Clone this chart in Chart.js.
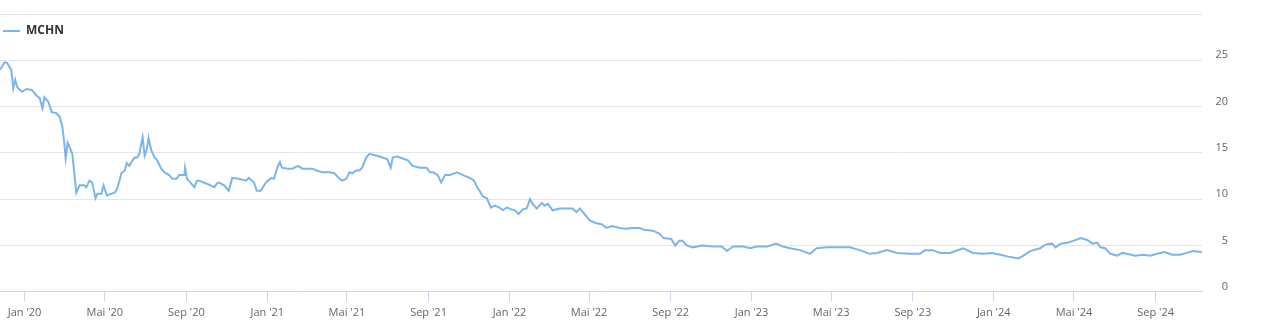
<!DOCTYPE html>
<html>
<head>
<meta charset="utf-8">
<script src="https://cdn.jsdelivr.net/npm/chart.js@4"></script>
<style>
  body { margin: 0; background: #fff; }
</style>
</head>
<body>
<canvas id="myChart" width="1266" height="324"></canvas>
<script>
// Daten
var seriesName = 'MCHN';
var dates = [
  '2019-11-25','2019-11-28','2019-12-02','2019-12-06','2019-12-09','2019-12-12','2019-12-15','2019-12-18','2019-12-21','2019-12-28',
  '2020-01-04','2020-01-12','2020-01-19','2020-01-24','2020-01-28','2020-01-31','2020-02-06','2020-02-11','2020-02-18','2020-02-23',
  '2020-02-27','2020-03-01','2020-03-03','2020-03-06','2020-03-09','2020-03-13','2020-03-16','2020-03-19','2020-03-24','2020-03-31',
  '2020-04-03','2020-04-08','2020-04-12','2020-04-17','2020-04-20','2020-04-26','2020-04-29','2020-05-04','2020-05-11','2020-05-16',
  '2020-05-20','2020-05-26','2020-05-31','2020-06-03','2020-06-07','2020-06-12','2020-06-15','2020-06-19','2020-06-22','2020-06-27',
  '2020-06-30','2020-07-03','2020-07-06','2020-07-10','2020-07-15','2020-07-19','2020-07-25','2020-07-30','2020-08-06','2020-08-11',
  '2020-08-17','2020-08-21','2020-08-29','2020-08-30','2020-09-02','2020-09-08','2020-09-13','2020-09-17','2020-09-20','2020-10-01',
  '2020-10-13','2020-10-17','2020-10-20','2020-10-28','2020-11-04','2020-11-09','2020-11-19','2020-11-30','2020-12-04','2020-12-12',
  '2020-12-16','2020-12-22','2020-12-30','2021-01-07','2021-01-11','2021-01-16','2021-01-20','2021-01-23','2021-02-01','2021-02-08',
  '2021-02-16','2021-02-23','2021-03-03','2021-03-10','2021-03-16','2021-03-25','2021-04-05','2021-04-12','2021-04-20','2021-04-24',
  '2021-04-30','2021-05-05','2021-05-09','2021-05-15','2021-05-20','2021-05-24','2021-05-30','2021-06-04','2021-06-15','2021-06-24',
  '2021-07-01','2021-07-06','2021-07-09','2021-07-16','2021-07-24','2021-08-01','2021-08-08','2021-08-19','2021-08-29','2021-09-03',
  '2021-09-08','2021-09-15','2021-09-20','2021-09-26','2021-10-03','2021-10-14','2021-10-23','2021-11-02','2021-11-07','2021-11-10',
  '2021-11-14','2021-11-17','2021-11-22','2021-11-28','2021-12-04','2021-12-10','2021-12-17','2021-12-22','2021-12-28','2022-01-04',
  '2022-01-09','2022-01-15','2022-01-21','2022-01-27','2022-02-01','2022-02-05','2022-02-11','2022-02-19','2022-02-23','2022-02-28',
  '2022-03-07','2022-03-18','2022-03-28','2022-04-06','2022-04-12','2022-04-17','2022-04-24','2022-05-02','2022-05-12','2022-05-20',
  '2022-05-27','2022-06-05','2022-06-16','2022-06-26','2022-07-05','2022-07-16','2022-07-23','2022-08-05','2022-08-15','2022-08-21',
  '2022-09-02','2022-09-08','2022-09-14','2022-09-19','2022-09-25','2022-10-04','2022-10-19','2022-11-04','2022-11-17','2022-11-25',
  '2022-12-04','2022-12-19','2022-12-30','2023-01-09','2023-01-25','2023-02-07','2023-02-17','2023-02-28','2023-03-15','2023-03-30',
  '2023-04-09','2023-04-25','2023-05-10','2023-05-29','2023-06-13','2023-06-28','2023-07-09','2023-07-24','2023-08-08','2023-08-28',
  '2023-09-12','2023-09-19','2023-10-01','2023-10-12','2023-10-27','2023-11-16','2023-12-01','2023-12-16','2023-12-30','2024-01-11',
  '2024-01-23','2024-02-07','2024-02-15','2024-02-25','2024-03-11','2024-03-19','2024-03-29','2024-04-03','2024-04-11','2024-04-21',
  '2024-04-30','2024-05-11','2024-05-21','2024-05-29','2024-06-05','2024-06-10','2024-06-17','2024-06-25','2024-07-05','2024-07-13',
  '2024-07-20','2024-08-01','2024-08-13','2024-08-24','2024-09-03','2024-09-15','2024-09-26','2024-10-08','2024-10-18','2024-10-27',
  '2024-11-10'
];
var prices = [
  24.0, 24.3, 24.8, 24.7, 24.3, 24.0, 22.0, 22.9, 22.1, 21.6,
  21.9, 21.8, 21.2, 20.9, 19.8, 21.0, 20.5, 19.4, 19.3, 18.9,
  17.8, 16.0, 14.4, 16.1, 15.6, 14.9, 12.8, 10.7, 11.5, 11.5,
  11.3, 12.0, 11.8, 10.1, 10.6, 10.6, 11.5, 10.4, 10.6, 10.7,
  11.2, 12.8, 13.1, 13.9, 13.6, 14.2, 14.5, 14.5, 14.9, 16.7,
  14.7, 15.3, 16.6, 15.3, 14.5, 14.2, 13.3, 12.9, 12.6, 12.2,
  12.2, 12.6, 12.6, 13.4, 12.2, 11.7, 11.3, 12.0, 12.0, 11.7,
  11.3, 11.7, 11.8, 11.5, 10.9, 12.3, 12.2, 12.0, 12.3, 11.8,
  10.9, 10.9, 11.8, 12.3, 12.2, 13.4, 14.0, 13.4, 13.3, 13.3,
  13.6, 13.3, 13.3, 13.3, 13.1, 12.9, 12.9, 12.8, 12.2, 12.0,
  12.2, 12.9, 12.8, 13.1, 13.1, 13.4, 14.5, 14.9, 14.7, 14.5,
  14.3, 13.4, 14.5, 14.6, 14.4, 14.2, 13.6, 13.4, 13.4, 12.9,
  12.9, 12.6, 11.8, 12.6, 12.6, 12.9, 12.6, 12.3, 12.1, 11.8,
  11.2, 10.9, 10.3, 10.1, 9.1, 9.3, 9.1, 8.8, 9.1, 8.9,
  8.8, 8.4, 8.9, 9.0, 10.0, 9.5, 9.0, 9.6, 9.3, 9.5,
  8.8, 9.0, 9.0, 9.0, 8.6, 9.0, 8.4, 7.7, 7.4, 7.3,
  6.9, 7.1, 6.9, 6.8, 6.9, 6.9, 6.7, 6.6, 6.3, 5.8,
  5.7, 5.0, 5.5, 5.5, 5.0, 4.8, 5.0, 4.9, 4.9, 4.4,
  4.9, 4.9, 4.7, 4.9, 4.9, 5.2, 4.9, 4.7, 4.5, 4.1,
  4.7, 4.8, 4.8, 4.8, 4.5, 4.1, 4.2, 4.5, 4.2, 4.1,
  4.1, 4.5, 4.5, 4.2, 4.2, 4.7, 4.2, 4.1, 4.2, 4.0,
  3.8, 3.6, 3.9, 4.4, 4.7, 5.1, 5.2, 4.8, 5.2, 5.3,
  5.5, 5.8, 5.6, 5.2, 5.3, 4.8, 4.7, 4.1, 3.9, 4.2,
  4.1, 3.9, 4.0, 3.9, 4.1, 4.3, 4.0, 4.0, 4.2, 4.4,
  4.3
];
var tickDates = [
  '2020-01-01','2020-05-01','2020-09-01','2021-01-01','2021-05-01','2021-09-01',
  '2022-01-01','2022-05-01','2022-09-01','2023-01-01','2023-05-01','2023-09-01',
  '2024-01-01','2024-05-01','2024-09-01'
];
var monthNames = ['Jan','Feb','Mär','Apr','Mai','Jun','Jul','Aug','Sep','Okt','Nov','Dez'];
var yTicks = [0, 5, 10, 15, 20, 25, 30];

function toTime(s) { return new Date(s + 'T00:00:00Z').getTime(); }

var points = dates.map(function (d, i) { return { x: toTime(d), y: prices[i] }; });

var config = {
    type: 'line',
    data: {
        datasets: [{
            label: seriesName,
            data: points,
            borderColor: '#7cb5ec',
            backgroundColor: '#7cb5ec',
            borderWidth: 2,
            pointRadius: 0,
            tension: 0,
            fill: false
        }]
    },
    options: {
        responsive: false,
        animation: false,
        layout: { padding: { left: 0, right: 38, top: 14, bottom: 1 } },
        plugins: {
            tooltip: { enabled: false },
            legend: {
                position: 'chartArea',
                align: 'start',
                // leerer Titel schiebt den Eintrag nach unten
                title: { display: true, text: '', padding: 0, font: { size: 22, lineHeight: 1 } },
                labels: {
                    boxWidth: 17,
                    boxHeight: 0,
                    padding: 3,
                    color: '#333333',
                    font: { family: 'Open Sans', size: 12, weight: 'bold' }
                }
            }
        },
        scales: {
            x: {
                type: 'linear',
                min: toTime(dates[0]),
                max: toTime(dates[dates.length - 1]),
                afterBuildTicks: function (axis) {
                    axis.ticks = tickDates.map(function (d) { return { value: toTime(d) }; });
                },
                grid: { drawOnChartArea: false, drawTicks: true, tickLength: 10, color: '#ccd6eb' },
                border: { display: true, color: '#ccd6eb' },
                ticks: {
                    autoSkip: false,
                    maxRotation: 0,
                    padding: 4,
                    color: '#666666',
                    font: { family: 'Open Sans', size: 11 },
                    callback: function (v) {
                        var d = new Date(v);
                        return monthNames[d.getUTCMonth()] + " '" + String(d.getUTCFullYear()).slice(2);
                    }
                }
            },
            y: {
                position: 'right',
                min: 0,
                max: 30,
                afterBuildTicks: function (axis) {
                    axis.ticks = yTicks.map(function (v) { return { value: v }; });
                },
                afterFit: function (axis) {
                    axis.width = 26;
                    axis.paddingTop = 0;
                    axis.paddingBottom = 0;
                },
                grid: { color: '#e6e6e6', drawTicks: false },
                border: { display: false },
                ticks: {
                    padding: 12,
                    crossAlign: 'far',
                    labelOffset: -5,
                    color: '#666666',
                    font: { family: 'Open Sans', size: 11 },
                    callback: function (v) { return v === 30 ? '' : v; }
                }
            }
        }
    }
};

var ctx = document.getElementById('myChart').getContext('2d');
new Chart(ctx, config);
</script>
</body>
</html>
